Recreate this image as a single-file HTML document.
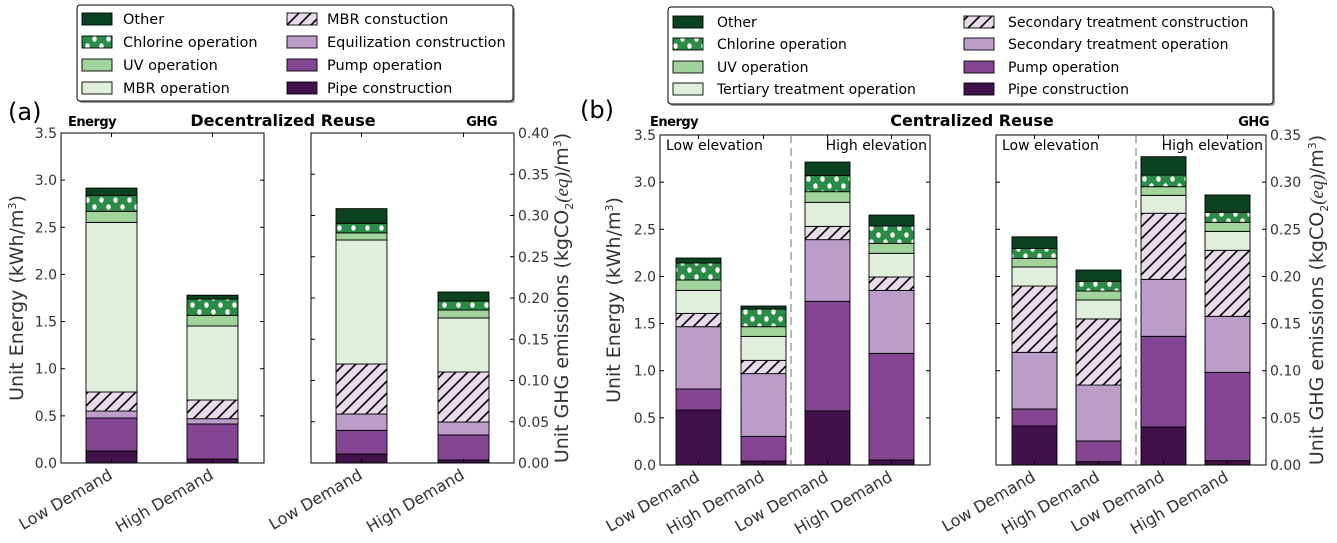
<!DOCTYPE html>
<html><head><meta charset="utf-8">
<style>
html,body{margin:0;padding:0;background:#fff;}
svg{display:block;font-family:"DejaVu Sans","Liberation Sans",sans-serif;}
</style></head>
<body>
<svg id="fig" width="1337" height="543" viewBox="0 0 1337 543" xmlns="http://www.w3.org/2000/svg">
<defs>
<pattern id="hatch" patternUnits="userSpaceOnUse" width="12" height="12">
<rect width="12" height="12" fill="#e7dbea"/>
<path d="M-3,3 L3,-3 M0,12 L12,0 M9,15 L15,9" stroke="#000" stroke-width="1.6"/>
</pattern>
<pattern id="dots" patternUnits="userSpaceOnUse" width="14" height="14">
<rect width="14" height="14" fill="#2b8c47"/>
<ellipse cx="3.5" cy="4" rx="2.2" ry="2.8" fill="#fff"/>
<ellipse cx="10.5" cy="11" rx="2.2" ry="2.8" fill="#fff"/>
</pattern>
</defs>
<g id="root"></g>
</svg>
<script>
// categories
const categories = ["Low Demand", "High Demand"];
const categoriesB = ["Low Demand", "High Demand", "Low Demand", "High Demand"];
// stacking order bottom -> top (segment sizes)
const layerColors = ["#40114a", "#844593", "#bc9dca", "url(#hatch)", "#e0efdc", "#a0d49a", "url(#dots)", "#0b4320"];
// Decentralized energy (kWh/m3): pipe, pump, eq, mbr constr, mbr op, uv, chlorine, other
const decEnergyLow  = [0.127, 0.350, 0.074, 0.202, 1.799, 0.117, 0.169, 0.078];
const decEnergyHigh = [0.042, 0.372, 0.056, 0.198, 0.785, 0.113, 0.173, 0.041];
// Decentralized GHG (kgCO2eq/m3)
const decGhgLow  = [0.0109, 0.0287, 0.0198, 0.0606, 0.1503, 0.0087, 0.0115, 0.0178];
const decGhgHigh = [0.0036, 0.0304, 0.0157, 0.0606, 0.0655, 0.0097, 0.0109, 0.0109];
// Centralized energy: LowElev-Low, LowElev-High, HighElev-Low, HighElev-High
const cenEnergy1 = [0.583, 0.223, 0.661, 0.141, 0.244, 0.110, 0.180, 0.053];
const cenEnergy2 = [0.042, 0.262, 0.665, 0.141, 0.254, 0.103, 0.187, 0.032];
const cenEnergy3 = [0.573, 1.163, 0.654, 0.141, 0.255, 0.113, 0.173, 0.141];
const cenEnergy4 = [0.053, 1.131, 0.668, 0.142, 0.251, 0.106, 0.184, 0.116];
// Centralized GHG
const cenGhg1 = [0.0414, 0.0180, 0.0601, 0.0703, 0.0202, 0.0092, 0.0106, 0.0122];
const cenGhg2 = [0.0035, 0.0220, 0.0593, 0.0701, 0.0201, 0.0095, 0.0103, 0.0120];
const cenGhg3 = [0.0403, 0.0962, 0.0604, 0.0701, 0.0190, 0.0092, 0.0123, 0.0195];
const cenGhg4 = [0.0046, 0.0937, 0.0594, 0.0700, 0.0201, 0.0096, 0.0106, 0.0184];
// tick labels
const energyTicks = ["0.0","0.5","1.0","1.5","2.0","2.5","3.0","3.5"];
const ghgTicksA = ["0.00","0.05","0.10","0.15","0.20","0.25","0.30","0.35","0.40"];
const ghgTicksB = ["0.00","0.05","0.10","0.15","0.20","0.25","0.30","0.35"];
// legends
const legendA1 = ["Other","Chlorine operation","UV operation","MBR operation"];
const legendA2 = ["MBR constuction","Equilization construction","Pump operation","Pipe construction"];
const legendB1 = ["Other","Chlorine operation","UV operation","Tertiary treatment operation"];
const legendB2 = ["Secondary treatment construction","Secondary treatment operation","Pump operation","Pipe construction"];

const NS = "http://www.w3.org/2000/svg";
const root = document.getElementById("root");
function mk(tag, attrs, parent, text){
  const e = document.createElementNS(NS, tag);
  for (const k in attrs) e.setAttribute(k, attrs[k]);
  if (text !== undefined) e.textContent = text;
  (parent || root).appendChild(e);
  return e;
}

function panel(cfg){
  const g = mk("g", {});
  
  
  const yScale = v => cfg.yb - (v / cfg.max) * (cfg.yb - cfg.yt);
  cfg.series.forEach((vals, i) => {
    const bx = cfg.barX[i];
    let cum = 0;
    vals.forEach((v, j) => {
      const y0 = yScale(cum), y1 = yScale(cum + v);
      cum += v;
      const r = mk("rect", {x: bx, y: y1, width: cfg.bw, height: Math.max(0, y0 - y1), fill: layerColors[j], stroke: "#000", "stroke-width": 0.9}, g);
      
      
    });
    const cx = bx + cfg.bw / 2;
    const t = mk("text", {x: cx + 2, y: cfg.yb + 15, "text-anchor": "end", "font-size": 16, fill: "#333", transform: `rotate(-30 ${cx + 2} ${cfg.yb + 15})`}, g, cfg.cats[i]);
    
    
    mk("line", {x1: cx, x2: cx, y1: cfg.yb, y2: cfg.yb - 4, stroke: "#000"}, g);
    mk("line", {x1: cx, x2: cx, y1: cfg.yt, y2: cfg.yt + 4, stroke: "#000"}, g);
  });
  const fr = mk("rect", {x: cfg.x0, y: cfg.yt, width: cfg.x1 - cfg.x0, height: cfg.yb - cfg.yt, fill: "none", stroke: "#000", "stroke-width": 1}, g);
  
  
  cfg.ticks.forEach((lab) => {
    const v = parseFloat(lab);
    const y = yScale(v);
    mk("line", {x1: cfg.x0, x2: cfg.x0 + 4, y1: y, y2: y, stroke: "#000"}, g);
    mk("line", {x1: cfg.x1, x2: cfg.x1 - 4, y1: y, y2: y, stroke: "#000"}, g);
    if (cfg.side === "left") {
      const t = mk("text", {x: cfg.x0 - 4, y: y + 5, "text-anchor": "end", "font-size": 14, fill: "#333"}, g, lab);
      
      
    } else {
      const t = mk("text", {x: cfg.x1 + 4, y: y + 5, "text-anchor": "start", "font-size": 14, fill: "#333"}, g, lab);
      
      
    }
  });
  if (cfg.dash) {
    const d = mk("line", {x1: cfg.dash, x2: cfg.dash, y1: cfg.yt, y2: cfg.yb, stroke: "#888", "stroke-width": 1.2, "stroke-dasharray": "8,5"}, g);
    
    
    const l1 = mk("text", {x: cfg.x0 + 6, y: cfg.yt + 15, "font-size": 14, fill: "#000"}, g, "Low elevation");
    
    
    const l2 = mk("text", {x: cfg.x1 - 3, y: cfg.yt + 15, "font-size": 14, "text-anchor": "end", fill: "#000"}, g, "High elevation");
    
    
  }
}

panel({name: "decentralized-energy-panel", x0: 61, x1: 264, yt: 133, yb: 463, max: 3.5, bw: 51, barX: [86, 187], series: [decEnergyLow, decEnergyHigh], cats: categories, ticks: energyTicks, side: "left"});
panel({name: "decentralized-ghg-panel", x0: 311, x1: 514, yt: 133, yb: 463, max: 0.40, bw: 51, barX: [336, 438], series: [decGhgLow, decGhgHigh], cats: categories, ticks: ghgTicksA, side: "right"});
panel({name: "centralized-energy-panel", x0: 660, x1: 930, yt: 135, yb: 465, max: 3.5, bw: 45, barX: [676, 741, 805, 869], series: [cenEnergy1, cenEnergy2, cenEnergy3, cenEnergy4], cats: categoriesB, ticks: energyTicks, side: "left", dash: 791});
panel({name: "centralized-ghg-panel", x0: 996, x1: 1266, yt: 135, yb: 465, max: 0.35, bw: 45, barX: [1012, 1076, 1141, 1205], series: [cenGhg1, cenGhg2, cenGhg3, cenGhg4], cats: categoriesB, ticks: ghgTicksB, side: "right", dash: 1136});

function txt(x, y, s, attrs, name){
  const a = Object.assign({x: x, y: y}, attrs);
  const t = mk("text", a, root, s);
  
  
  return t;
}
txt(8, 120, "(a)", {"font-size": 24}, "panel-a-label");
txt(580, 118, "(b)", {"font-size": 24}, "panel-b-label");
txt(68, 126, "Energy", {"font-size": 13, "font-weight": "bold", "letter-spacing": "-0.5"}, "energy-label");
txt(650, 126, "Energy", {"font-size": 13, "font-weight": "bold", "letter-spacing": "-0.5"}, "energy-label");
txt(497, 126, "GHG", {"font-size": 13, "font-weight": "bold", "text-anchor": "end", "letter-spacing": "-0.5"}, "ghg-label");
txt(1269, 126, "GHG", {"font-size": 13, "font-weight": "bold", "text-anchor": "end", "letter-spacing": "-0.5"}, "ghg-label");
txt(283, 126, "Decentralized Reuse", {"font-size": 16, "font-weight": "bold", "text-anchor": "middle"}, "decentralized-title");
txt(972, 126, "Centralized Reuse", {"font-size": 16, "font-weight": "bold", "text-anchor": "middle"}, "centralized-title");

function ylabel(x, y, name, ghg){
  const t = mk("text", {x: 0, y: 0, "font-size": 19, fill: "#333", "text-anchor": "middle", transform: `translate(${x},${y}) rotate(-90)`});
  
  
  if (!ghg) {
    t.appendChild(document.createTextNode("Unit Energy (kWh/m"));
    mk("tspan", {"font-size": 11, dy: -7}, t, "3");
    mk("tspan", {dy: 7}, t, ")");
  } else {
    t.appendChild(document.createTextNode("Unit GHG emissions (kgCO"));
    mk("tspan", {"font-size": 11, dy: 5}, t, "2");
    mk("tspan", {dy: -5, "font-family": "Liberation Serif, serif", "font-style": "italic"}, t, "(eq)");
    mk("tspan", {}, t, "/m");
    mk("tspan", {"font-size": 11, dy: -7}, t, "3");
    mk("tspan", {dy: 7}, t, ")");
  }
}
ylabel(23, 298, "y-axis-title-energy", false);
ylabel(568, 298, "y-axis-title-ghg", true);
ylabel(620, 300, "y-axis-title-energy", false);
ylabel(1323, 300, "y-axis-title-ghg", true);

function legend(bx, by, bw, bh, rows, col1, col2, sw1, tx1, sw2, tx2, fs, name){
  const g = mk("g", {});
  
  
  mk("rect", {x: bx + 2, y: by + 2, width: bw, height: bh, rx: 3, fill: "#999"}, g);
  mk("rect", {x: bx, y: by, width: bw, height: bh, rx: 3, fill: "#fff", stroke: "#000", "stroke-width": 1}, g);
  const c1 = [layerColors[7], layerColors[6], layerColors[5], layerColors[4]];
  const c2 = [layerColors[3], layerColors[2], layerColors[1], layerColors[0]];
  rows.forEach((ry, i) => {
    mk("rect", {x: sw1, y: ry - 6, width: 30, height: 12, fill: c1[i], stroke: "#000", "stroke-width": 0.9}, g);
    const t1 = mk("text", {x: tx1, y: ry + 5, "font-size": fs, fill: "#000"}, g, col1[i]);
    
    
    mk("rect", {x: sw2, y: ry - 6, width: 30, height: 12, fill: c2[i], stroke: "#000", "stroke-width": 0.9}, g);
    const t2 = mk("text", {x: tx2, y: ry + 5, "font-size": fs, fill: "#000"}, g, col2[i]);
    
    
  });
}
legend(77, 5, 436, 96, [19, 42, 65, 88], legendA1, legendA2, 82, 123, 287, 327, 14.5, "legend-decentralized");
legend(668, 7, 605, 97, [22, 44, 67, 89], legendB1, legendB2, 673, 717, 964, 1008, 14, "legend-centralized");
</script>
</body></html>
